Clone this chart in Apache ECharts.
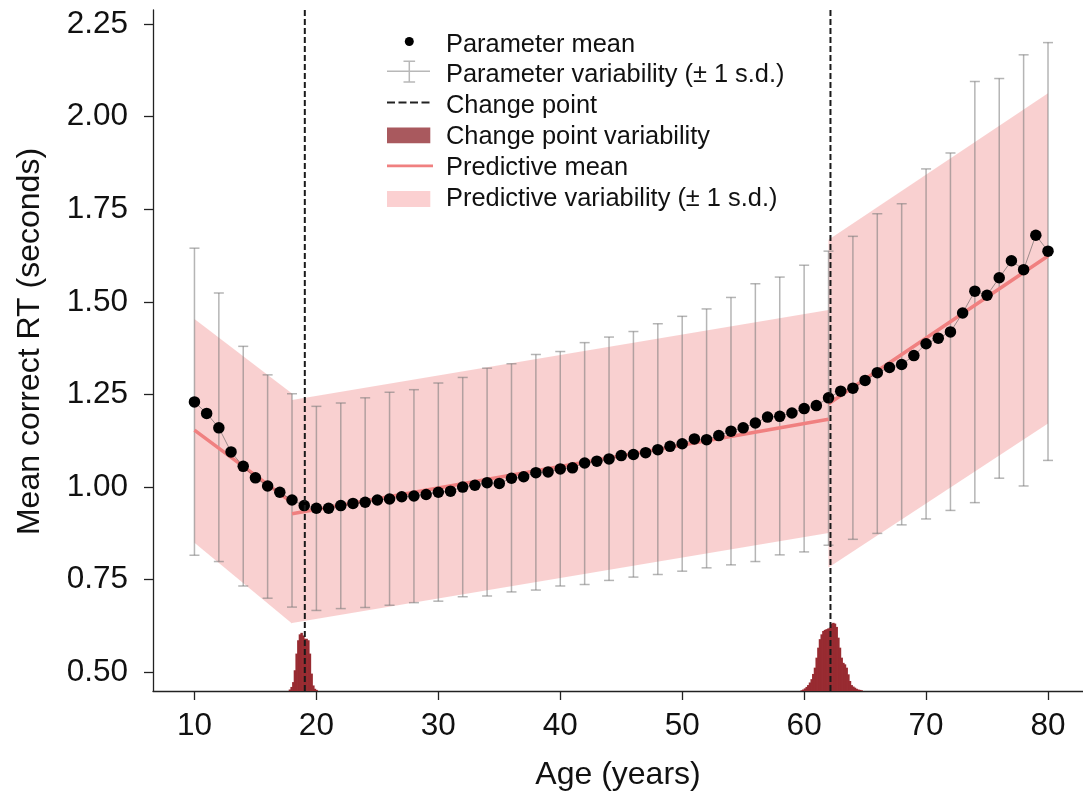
<!DOCTYPE html>
<html>
<head>
<meta charset="utf-8">
<script src="https://cdn.jsdelivr.net/npm/echarts@6/dist/echarts.min.js"></script>
<style>html,body{margin:0;padding:0;background:#fff}#chart{width:1083px;height:798px}</style>
</head>
<body>
<div id="chart"></div>
<script>
// ---------- data ----------
const ages = [10,11,12,13,14,15,16,17,18,19,20,21,22,23,24,25,26,27,28,29,30,31,32,33,34,35,36,37,38,39,40,41,42,43,44,45,46,47,48,49,50,51,52,53,54,55,56,57,58,59,60,61,62,63,64,65,66,67,68,69,70,71,72,73,74,75,76,77,78,79,80];
const paramMean = [1.230,1.199,1.160,1.095,1.056,1.025,1.003,0.986,0.965,0.950,0.943,0.943,0.950,0.956,0.959,0.965,0.968,0.974,0.976,0.980,0.986,0.989,1.000,1.005,1.012,1.010,1.024,1.028,1.039,1.041,1.049,1.052,1.065,1.070,1.076,1.085,1.088,1.093,1.101,1.110,1.117,1.130,1.128,1.139,1.151,1.160,1.173,1.189,1.191,1.200,1.212,1.220,1.241,1.259,1.267,1.288,1.309,1.323,1.331,1.355,1.387,1.402,1.419,1.470,1.529,1.518,1.565,1.611,1.587,1.680,1.637];

const errAges = [10,12,14,16,18,20,22,24,26,28,30,32,34,36,38,40,42,44,46,48,50,52,54,56,58,60,62,64,66,68,70,72,74,76,78,80];
const errLow  = [0.816,0.799,0.733,0.700,0.676,0.667,0.672,0.675,0.681,0.688,0.692,0.704,0.706,0.717,0.722,0.733,0.737,0.748,0.757,0.764,0.773,0.782,0.790,0.799,0.817,0.825,0.843,0.859,0.875,0.898,0.914,0.937,0.958,1.024,1.003,1.072];
const errHigh = [1.645,1.524,1.380,1.303,1.252,1.218,1.227,1.241,1.256,1.263,1.281,1.296,1.321,1.333,1.358,1.366,1.390,1.405,1.420,1.441,1.461,1.481,1.512,1.549,1.567,1.599,1.637,1.677,1.738,1.765,1.859,1.902,2.095,2.103,2.167,2.200];

const changePoints = [19.05, 62.16];

const histAgesLeft = [17.83,17.97,18.11,18.24,18.38,18.52,18.65,18.79,18.93,19.06,19.20,19.34,19.47,19.61,19.75,19.88,20.02];
const histHeightsLeft = [0.004,0.011,0.024,0.056,0.101,0.137,0.153,0.157,0.150,0.141,0.141,0.137,0.101,0.047,0.015,0.006,0.003];
const histAgesRight = [59.80,59.93,60.07,60.21,60.34,60.48,60.62,60.75,60.89,61.03,61.17,61.30,61.44,61.58,61.71,61.85,61.99,62.12,62.26,62.40,62.53,62.67,62.81,62.94,63.08,63.22,63.35,63.49,63.63,63.76,63.90,64.04,64.17,64.31,64.45,64.59,64.72];
const histHeightsRight = [0.002,0.004,0.007,0.011,0.016,0.023,0.032,0.046,0.063,0.090,0.117,0.140,0.153,0.162,0.165,0.167,0.169,0.171,0.182,0.184,0.182,0.173,0.144,0.117,0.090,0.076,0.072,0.063,0.045,0.027,0.016,0.012,0.009,0.006,0.004,0.003,0.002];
const histBinWidth = 0.1367;

const predAges = [[10,18],[18,62],[62,80]];
const predMean = [[1.154,0.958],[0.928,1.183],[1.225,1.624]];
const predLow  = [[0.850,0.632],[0.633,0.876],[0.783,1.172]];
const predHigh = [[1.454,1.253],[1.235,1.478],[1.668,2.063]];

const xTicks = [10,20,30,40,50,60,70,80];
const yTicks = [0.50,0.75,1.00,1.25,1.50,1.75,2.00,2.25];

// ---------- layout / style ----------
const X_MIN = 6.6, X_MAX = 82.87, Y_MIN = 0.4495, Y_MAX = 2.288;
const FONT = 'Liberation Sans';

const N_PM = 'Parameter mean';
const N_PV = 'Parameter variability (\u00b1 1 s.d.)';
const N_CP = 'Change point';
const N_CV = 'Change point variability';
const N_PRM = 'Predictive mean';
const N_PRV = 'Predictive variability (\u00b1 1 s.d.)';

const histData = histAgesLeft.map((a,i)=>[a, histHeightsLeft[i]])
  .concat(histAgesRight.map((a,i)=>[a, histHeightsRight[i]]));
const bandData = predAges.map((a,i)=>[a[0], a[1], predLow[i][0], predLow[i][1], predHigh[i][0], predHigh[i][1]]);
const predLineData = [];
predAges.forEach((a,i)=>{
  if (i > 0) predLineData.push([a[0], '-']);
  predLineData.push([a[0], predMean[i][0]]);
  predLineData.push([a[1], predMean[i][1]]);
});

const B = 'M0,0M54,30'; // icon bounding box
const option = {
  animation: false,
  backgroundColor: '#fff',
  grid: {left: 153, right: 0, top: 10, bottom: 107, containLabel: false, outerBoundsMode: 'none'},
  xAxis: {
    type: 'value', min: X_MIN, max: X_MAX,
    name: 'Age (years)', nameLocation: 'middle', nameGap: 68,
    nameTextStyle: {fontFamily: FONT, fontSize: 32, color: '#111'},
    axisLine: {show: true, lineStyle: {color: '#222', width: 1.3}},
    axisTick: {show: true, customValues: xTicks, length: 9, lineStyle: {color: '#222', width: 1.3}},
    axisLabel: {customValues: xTicks, margin: 19, fontFamily: FONT, fontSize: 31.5, color: '#111'},
    splitLine: {show: false}
  },
  yAxis: {
    type: 'value', min: Y_MIN, max: Y_MAX,
    name: 'Mean correct RT (seconds)', nameLocation: 'middle', nameGap: 107,
    nameTextStyle: {fontFamily: FONT, fontSize: 32, color: '#111', padding: [0, 0, 0, 18]},
    axisLine: {show: true, lineStyle: {color: '#222', width: 1.3}},
    axisTick: {show: true, customValues: yTicks, length: 9, lineStyle: {color: '#222', width: 1.3}},
    axisLabel: {customValues: yTicks, margin: 25, fontFamily: FONT, fontSize: 31.5, color: '#111',
      formatter: v => Number(v).toFixed(2)},
    splitLine: {show: false}
  },
  legend: {
    orient: 'vertical', left: 387, top: 29.5, padding: 0,
    itemWidth: 54, itemHeight: 30, itemGap: 0.8, selectedMode: false,
    textStyle: {fontFamily: FONT, fontSize: 25.4, color: '#111', lineHeight: 30},
    data: [
      {name: N_PM, icon: 'path://' + B + 'M17.8,12a4.5,4.5 0 1,0 9,0a4.5,4.5 0 1,0 -9,0z', itemStyle: {color: '#000', borderWidth: 0}},
      {name: N_PV, icon: 'path://' + B + 'M0,10.25h43v1.5h-43zM21.55,1h1.5v20.6h-1.5zM16.5,0.25h11.6v1.5h-11.6zM16.5,20.85h11.6v1.5h-11.6z', itemStyle: {color: '#b8b8b8', borderWidth: 0}},
      {name: N_CP, icon: 'path://' + B + 'M0,10.5h8v1.8h-8zM11.5,10.5h8v1.8h-8zM23,10.5h8v1.8h-8zM34.5,10.5h8v1.8h-8z', itemStyle: {color: '#222', borderWidth: 0}},
      {name: N_CV, icon: 'path://' + B + 'M0,5.7h43.3v15.7h-43.3z', itemStyle: {color: '#a9595e', borderWidth: 0}},
      {name: N_PRM, icon: 'path://' + B + 'M0,11.8h46v2.8h-46z', itemStyle: {color: '#f08080', borderWidth: 0}},
      {name: N_PRV, icon: 'path://' + B + 'M0,7.5h43.3v16h-43.3z', itemStyle: {color: '#fbd0d1', borderWidth: 0}}
    ]
  },
  series: [
    {
      name: N_PRV, type: 'custom', z: 1, data: bandData,
      renderItem: (params, api) => {
        const p = [
          api.coord([api.value(0), api.value(4)]),
          api.coord([api.value(1), api.value(5)]),
          api.coord([api.value(1), api.value(3)]),
          api.coord([api.value(0), api.value(2)])
        ];
        return {type: 'polygon', shape: {points: p}, style: {fill: 'rgba(240,128,128,0.37)'}};
      }
    },
    {
      name: N_CV, type: 'custom', z: 2, data: histData,
      itemStyle: {color: '#97282e'},
      renderItem: (params, api) => {
        const c = api.value(0), h = api.value(1);
        const p0 = api.coord([c - histBinWidth / 2, Y_MIN + h]);
        const p1 = api.coord([c + histBinWidth / 2, Y_MIN]);
        return {type: 'rect', shape: {x: p0[0] - 0.4, y: p0[1], width: p1[0] - p0[0] + 0.8, height: p1[1] - p0[1]},
          style: {fill: '#982b31'}};
      }
    },
    {
      name: N_PV, type: 'custom', z: 3,
      data: errAges.map((a,i)=>[a, errLow[i], errHigh[i]]),
      itemStyle: {color: '#999'},
      renderItem: (params, api) => {
        const x = api.value(0);
        const lo = api.coord([x, api.value(1)]);
        const hi = api.coord([x, api.value(2)]);
        const hw = 5;
        const st = {stroke: 'rgba(120,120,120,0.55)', lineWidth: 1.5};
        return {type: 'group', children: [
          {type: 'line', shape: {x1: lo[0], y1: lo[1], x2: hi[0], y2: hi[1]}, style: st},
          {type: 'line', shape: {x1: lo[0]-hw, y1: lo[1], x2: lo[0]+hw, y2: lo[1]}, style: st},
          {type: 'line', shape: {x1: hi[0]-hw, y1: hi[1], x2: hi[0]+hw, y2: hi[1]}, style: st}
        ]};
      }
    },
    {
      name: N_PRM, type: 'line', z: 4, data: predLineData,
      symbol: 'none', connectNulls: false,
      itemStyle: {color: '#f08080'},
      lineStyle: {color: '#f08080', width: 3.5}
    },
    {
      name: N_PM, type: 'line', z: 5,
      data: ages.map((a,i)=>[a, paramMean[i]]),
      symbol: 'circle', symbolSize: 11.5, showSymbol: true,
      itemStyle: {color: '#000', borderWidth: 0},
      lineStyle: {color: 'rgba(80,80,80,0.55)', width: 1}
    },
    {
      name: N_CP, type: 'custom', z: 6,
      data: changePoints.map(c=>[c, Y_MIN]),
      itemStyle: {color: '#222'},
      renderItem: (params, api) => {
        const x = api.value(0);
        const p0 = api.coord([x, Y_MIN]);
        const p1 = api.coord([x, Y_MAX]);
        return {type: 'line', shape: {x1: p0[0], y1: p0[1], x2: p1[0], y2: p1[1]},
          style: {stroke: '#1a1a1a', lineWidth: 2, lineDash: [6, 3]}};
      }
    }
  ]
};

const chart = echarts.init(document.getElementById('chart'), null, {renderer: 'canvas'});
chart.setOption(option);
</script>
</body>
</html>
